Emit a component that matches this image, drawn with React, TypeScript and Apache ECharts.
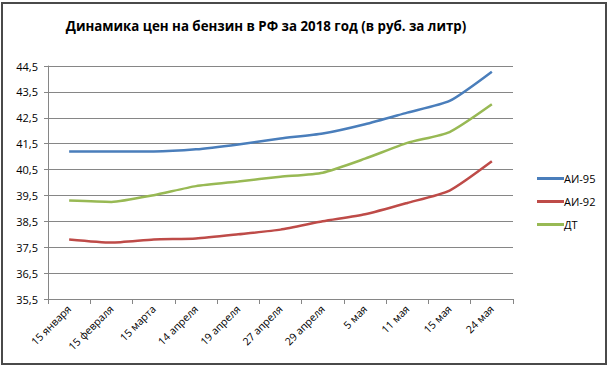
import React, { useEffect, useRef } from "react";
import * as echarts from "echarts";

const categories = [
  "15 января", "15 февраля", "15 марта", "14 апреля", "19 апреля", "27 апреля",
  "29 апреля", "5 мая", "11 мая", "15 мая", "24 мая",
];
const ai95 = [41.2, 41.2, 41.2, 41.28, 41.47, 41.7, 41.89, 42.25, 42.7, 43.15, 44.28];
const ai92 = [37.8, 37.68, 37.8, 37.84, 38.0, 38.18, 38.5, 38.77, 39.21, 39.69, 40.82];
const dt = [39.3, 39.25, 39.51, 39.86, 40.04, 40.22, 40.38, 40.92, 41.53, 41.95, 43.02];
const seriesNames = ["АИ-95", "АИ-92", "ДТ"];
const colors = ["#4a7ebb", "#be4b48", "#98b954"];
const titleText = "Динамика цен на бензин в РФ за 2018 год (в руб. за литр)";

export default function App() {
  const ref = useRef<HTMLDivElement>(null);
  useEffect(() => {
    document.body.style.margin = "0";
    const chart = echarts.init(ref.current!, null, { renderer: "svg" });
    const font = "Open Sans";
    const data = [ai95, ai92, dt];
    chart.setOption({
      animation: false,
      backgroundColor: "#ffffff",
      title: {
        text: titleText,
        left: 261,
        textAlign: "center",
        top: 14,
        textStyle: { fontFamily: font, fontSize: 13.3, fontWeight: "bold", color: "#000" },
      },
      legend: {
        orient: "vertical",
        left: 532,
        top: 168,
        itemWidth: 27,
        itemHeight: 3,
        itemGap: 12,
        icon: "rect",
        textStyle: { fontFamily: font, fontSize: 11, color: "#000", padding: [0, 0, 0, -5] },
        data: seriesNames,
      },
      grid: { left: 48, right: 97, top: 66, bottom: 68, containLabel: false },
      xAxis: {
        type: "category",
        data: categories,
        boundaryGap: true,
        axisLine: { lineStyle: { color: "#868686", width: 1 } },
        axisTick: { show: true, length: 5, lineStyle: { color: "#868686" } },
        axisLabel: { rotate: 45, fontFamily: font, fontSize: 10.5, color: "#000", margin: 8 },
      },
      yAxis: {
        type: "value",
        min: 35.5,
        max: 44.5,
        interval: 1,
        axisLine: { show: true, lineStyle: { color: "#868686", width: 1 } },
        axisTick: { show: true, length: 4, lineStyle: { color: "#868686" } },
        splitLine: { lineStyle: { color: "#868686", width: 1 } },
        axisLabel: {
          fontFamily: font,
          fontSize: 11,
          color: "#000",
          margin: 10,
          formatter: (v: number) => v.toFixed(1).replace(".", ","),
        },
      },
      series: data.map((d, i) => ({
        name: seriesNames[i],
        type: "line",
        data: d,
        smooth: 0.2,
        symbol: "none",
        lineStyle: { color: colors[i], width: 2.5 },
        itemStyle: { color: colors[i] },
      })),
      graphic: [
        {
          type: "rect",
          shape: { x: 2, y: 3, width: 604, height: 361 },
          style: { fill: "none", stroke: "#4a4a4a", lineWidth: 2 },
          silent: true,
        },
      ],
    });
    return () => chart.dispose();
  }, []);
  return <div ref={ref} style={{ position: "absolute", left: 0, top: 0, width: 610, height: 367 }} />;
}
